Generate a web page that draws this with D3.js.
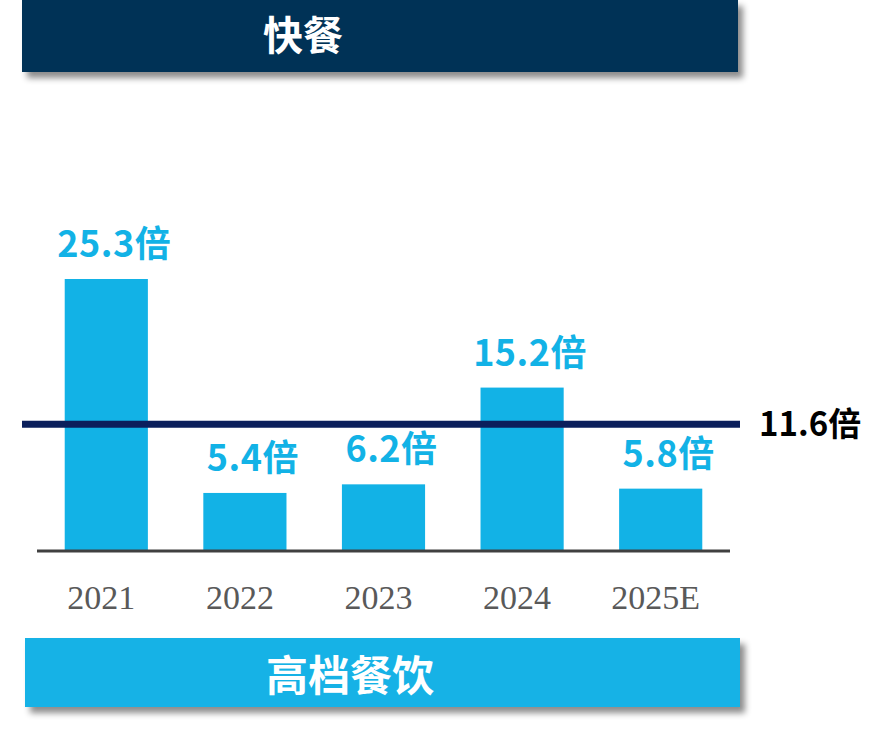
<!DOCTYPE html>
<html><head><meta charset="utf-8">
<script src="https://cdn.jsdelivr.net/npm/d3@7"></script>
<style>html,body{margin:0;padding:0;background:#fff;}svg{display:block;}</style>
</head><body>
<script>
const categories = ["2021","2022","2023","2024","2025E"];
const values = [25.3, 5.4, 6.2, 15.2, 5.8];
const averageValue = 11.6;
const unitSuffix = "倍";
const headerTitle = "快餐";
const footerTitle = "高档餐饮";

const W = 895, H = 747;
const svg = d3.select("body").append("svg").attr("width", W).attr("height", H);
const defs = svg.append("defs");
const f = defs.append("filter").attr("id","sh").attr("x","-5%").attr("y","-20%").attr("width","115%").attr("height","160%");
f.append("feDropShadow").attr("dx",5).attr("dy",6).attr("stdDeviation",3).attr("flood-color","#000").attr("flood-opacity",0.45);

const cjk = "'Noto Sans CJK SC','Noto Sans',sans-serif";

// header
svg.append("rect").attr("x",22).attr("y",0).attr("width",716).attr("height",72).attr("fill","#003057").attr("filter","url(#sh)");
svg.append("text").attr("x",303).attr("y",33).attr("text-anchor","middle").attr("dominant-baseline","central")
  .attr("fill","#fff").attr("font-family",cjk).attr("font-weight",700).attr("font-size",40).text(headerTitle);

// scales
const baseY = 551;
const x = d3.scaleBand().domain(categories).range([37, 730]).paddingInner(0.4).paddingOuter(0.2);
const y = d3.scaleLinear().domain([0, 25.3]).range([baseY, 279]);

svg.append("g").selectAll("rect").data(values).join("rect")
  .attr("x",(d,i)=>x(categories[i])).attr("width",x.bandwidth())
  .attr("y",d=>y(d)).attr("height",d=>baseY-y(d)).attr("fill","#12B2E6");

// value labels
svg.append("g").selectAll("text").data(values).join("text")
  .attr("x",(d,i)=>x(categories[i])+x.bandwidth()/2+8).attr("y",d=>y(d)-22)
  .attr("text-anchor","middle").attr("fill","#12B2E6").attr("font-family",cjk).attr("font-weight",700)
  .attr("font-size",36).attr("letter-spacing",0.5).text(d=>d.toFixed(1)+unitSuffix);

// baseline axis
const axis = d3.axisBottom(x).tickSize(0).tickPadding(0);
const ax = svg.append("g").attr("transform",`translate(-5,${baseY})`).call(axis);
ax.select(".domain").remove();
svg.append("line").attr("x1",37).attr("x2",730).attr("y1",baseY).attr("y2",baseY).attr("stroke","#404040").attr("stroke-width",3);
ax.selectAll("text").attr("dy",null).attr("y",58).attr("fill","#595959")
  .attr("font-family","'Liberation Serif','DejaVu Serif',serif").attr("font-size",34);

// average line
const avgY = y(averageValue) - 2;
svg.append("line").attr("x1",22).attr("x2",740).attr("y1",avgY).attr("y2",avgY).attr("stroke","#0B1F5C").attr("stroke-width",7);
svg.append("text").attr("x",759).attr("y",avgY+12).attr("fill","#000").attr("font-family",cjk).attr("font-weight",700)
  .attr("font-size",33).text(averageValue.toFixed(1)+unitSuffix);

// footer
svg.append("rect").attr("x",25).attr("y",638).attr("width",715).attr("height",69).attr("fill","#12B2E6").attr("filter","url(#sh)");
svg.append("text").attr("x",350).attr("y",672).attr("text-anchor","middle").attr("dominant-baseline","central")
  .attr("fill","#fff").attr("font-family",cjk).attr("font-weight",700).attr("font-size",42).text(footerTitle);
</script>
</body></html>
